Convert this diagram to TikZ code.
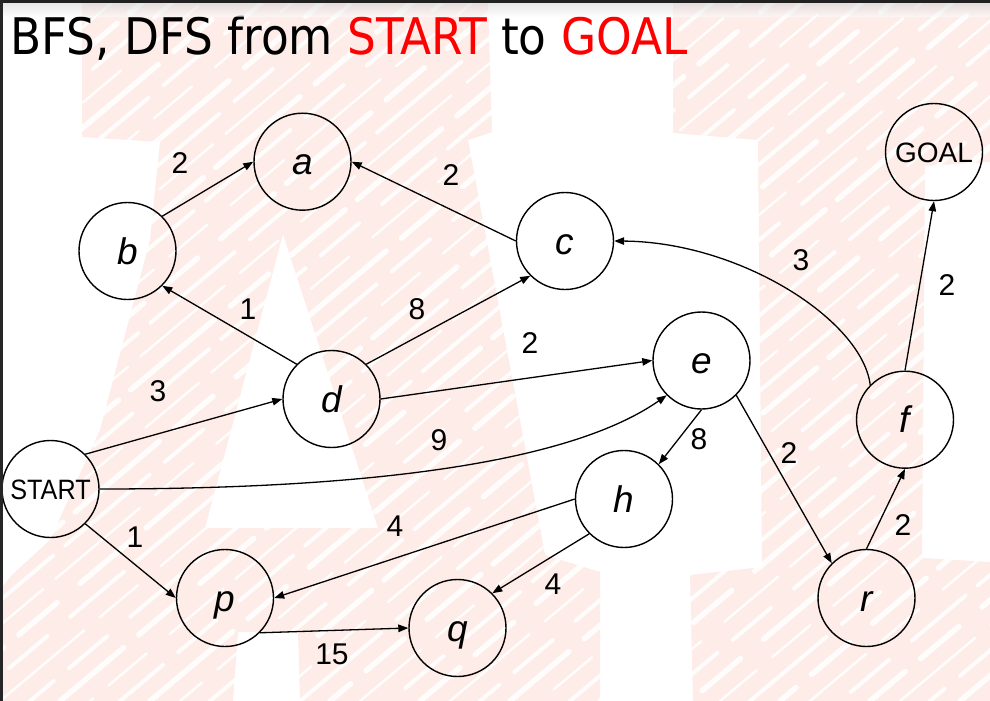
\documentclass[tikz,border=0pt]{standalone}
\usepackage{fontspec}
\setmainfont{Liberation Sans}
\newfontfamily\titlefont{DejaVu Sans Condensed}
\usetikzlibrary{arrows.meta}
\definecolor{wmpink}{RGB}{253,236,232}
\definecolor{titlered}{RGB}{255,0,0}
\begin{document}
\begin{tikzpicture}[x=1pt,y=-1pt,
  state/.style={circle,draw,line width=1.4pt,minimum size=97pt,inner sep=0pt,
    text height=26pt,text depth=0pt,font=\fontsize{37}{40}\selectfont\itshape},
  endstate/.style={state,text height=20pt,font=\fontsize{28}{30}\selectfont},
  edge/.style={line width=1.3pt,-{Triangle[length=10pt,width=7.5pt]}},
  weight/.style={inner sep=0pt,font=\fontsize{30}{32}\selectfont},
  hatch/.style={white,opacity=0.9,line cap=round},
]
\useasboundingbox (0,0) rectangle (990,701);
\fill[white] (0,0) rectangle (990,701);

% faint hatched "AI" backdrop
\fill[wmpink,even odd rule]
  (82,3) -- (488,3) -- (492,132) -- (468,140) -- (545,555) -- (600,572)
  -- (600,701) -- (300,701) -- (298,632) -- (238,632) -- (233,701) -- (0,701)
  -- (0,590) -- (12,575) -- (50,540) -- (100,430) -- (150,240) -- (160,142)
  -- (82,137) -- cycle
  (283,234) -- (378,528) -- (205,528) -- cycle;
\fill[wmpink]
  (673,3) -- (990,3) -- (990,162) -- (925,166) -- (922,558) -- (990,562)
  -- (990,701) -- (693,701) -- (690,575) -- (762,567) -- (758,140)
  -- (673,133) -- cycle;
\foreach \i [evaluate=\i as \ph using {mod(abs(\i)*7,131)},
             evaluate=\i as \w using {2.5+1.5*mod(abs(\i)/30,3)}] in {-900,-870,...,1000}
  \draw[hatch,line width=\w pt,dash pattern=on 110pt off 20pt on 50pt off 30pt on 70pt off 16pt,dash phase=\ph pt]
    (\i,701) -- ++(835,-701);

% title
\node[anchor=base west,inner sep=0pt] (title) at (10,55)
  {\resizebox{677pt}{!}{\titlefont BFS, DFS from \textcolor{titlered}{START} to \textcolor{titlered}{GOAL}}};

% states
\node[state] (a) at (302.5,161.7) {a};
\node[state] (b) at (127.5,251) {b};
\node[state] (c) at (565,241) {c};
\node[state] (d) at (331.5,399) {d};
\node[state] (e) at (701.5,360.5) {e};
\node[state] (f) at (905,419.7) {f};
\node[endstate] (goal) at (934,152) {GOAL};
\node[state] (h) at (624,499) {h};
\node[state] (r) at (866.5,598) {r};
\node[endstate] (start) at (50.5,489) {\scalebox{0.9}[1]{START}};
\node[state] (p) at (225,598) {p};
\node[state] (q) at (457.5,628) {q};

% transitions
\draw[edge] (b.north east) -- (a.west);
\draw[edge] (c.west) -- (a.east);
\draw[edge] (d.north west) -- (b.south east);
\draw[edge] (d.north east) -- (c.south west);
\draw[edge] (d.east) -- (e.west);
\draw[edge] (start.north east) -- (d.west);
\draw[edge] (start.east) .. controls (330,489) and (560,470) .. (e.south west);
\draw[edge] (start.south east) -- (p.west);
\draw[edge] (e.south) -- (h.north east);
\draw[edge] (e.south east) -- (r.north west);
\draw[edge] (h.west) -- (p.east);
\draw[edge] (h.south west) -- (q.north east);
\draw[edge] (p.south east) -- (q.west);
\draw[edge] (r.north) -- (f.south);
\draw[edge] (f.north) -- (goal.south);
\draw[edge] (f.north west) .. controls (862,320) and (740,242) .. (c.east);

% costs
\node[weight] (w-ba) at (180,163) {2};
\node[weight] (w-ca) at (451,175) {2};
\node[weight] (w-db) at (248,309) {1};
\node[weight] (w-dc) at (417,309) {8};
\node[weight] (w-de) at (530,343) {2};
\node[weight] (w-sd) at (158,391) {3};
\node[weight] (w-se) at (439,440) {9};
\node[weight] (w-sp) at (135,537) {1};
\node[weight] (w-hp) at (395,526) {4};
\node[weight] (w-hq) at (553,584) {4};
\node[weight] (w-pq) at (332,654) {15};
\node[weight] (w-eh) at (699,439) {8};
\node[weight] (w-er) at (789,453) {2};
\node[weight] (w-rf) at (903,525) {2};
\node[weight] (w-fg) at (947,285) {2};
\node[weight] (w-fc) at (801,260) {3};

% window frame edges
\shade[top color=black!18,bottom color=white,opacity=0.5] (0,3) rectangle (990,17);
\fill[black!87] (0,0) rectangle (990,3);
\fill[black!85] (0,0) rectangle (2.5,701);
\end{tikzpicture}
\end{document}
